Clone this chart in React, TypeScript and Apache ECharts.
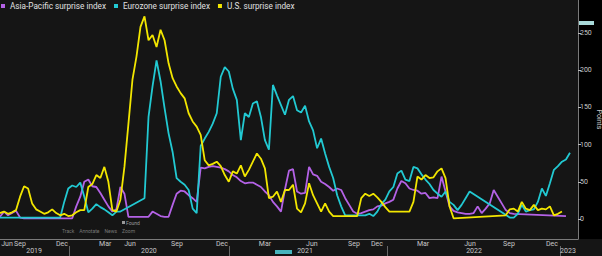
import React, { useEffect, useRef } from "react";
import * as echarts from "echarts";

const seriesNames = ["Asia-Pacific surprise index", "Eurozone surprise index", "U.S. surprise index"];
const seriesColors = ["#b462e6", "#22c9d2", "#f2e600"];

// observation-indexed values (null = no observation, joined by a straight line)
const apac: (number | null)[] = [
  3, 10, 5, 8, 11, 2,
  1, 1, 1, 1, 1, 1, 1, 1, 1, 1, 1, 1, 1,
  17, 30, 50, 53, 44, 43, 35, 26, 17, 10, 13, 43, 34, 3,
  3, 3, 3, 3, 3,
  10, 7, 4, 3, 3, 19, 34, 38, 37, 32, 28, 23,
  69, 68, 70, 71, 70, 69, 67, 64, 59, 56, 51, 48, 49, 49, 46, 43, 37, 32, 23, 17, 10, 40, 65,
  67, 37, 34, 35, 70, 60, 58, 50, 47, 43, 38, 41, 39, 28, 19, 10, 7, 8, 10, 12, 13, 17, 18, 21, 23, 26,
  41, 51, 48, 41, 39, 38, 34, 35, 28, 29, 28, 57, 37, 17, 11, 9, 8, 7, 7, 8, 17, 8, 14, 21, 39, 30, 21, 12, 8, 7,
  null, null, null, null, null, null, null, null, null, null, null, null,
  4, null,
];

const eurozone: (number | null)[] = [
  2, 2, 2, 2, 2, 2, 2, 2, 2, 2, 2, 2, 2, 2, 2, 2,
  23, 41, 45, 43, 49, 30, 9, 14, 20, 16, 13, 9, 5, 10, 10,
  null, null, null, null, null,
  28, 137, 178, 213, 185, 149, 115, 90, 55, 50, 46, 39, 14, 8, 98, 108, 117, 128, 142, 191,
  204, 198, 175, 160, 106, 142, 137, 155, 158, 137, 106, 93, 180, 166, 153, 140, 160,
  165, 146, 143, 152, 131, 119, 95, 108, 88, 70, 55, 32, 17, 5, 5, 5, 5, 5, 5, 7, 4, 10, 20, 26, 37,
  43, 61, 65, 53, 51, 70, 68, 60, 53, 47, 39, 34, 30, 37, 23, 19, 12, 19, 28, 37,
  null, null, null, null, null, null, null, null, null,
  2, 2, 7, 19, 10, 12, 13, 23, 41, 31, 48, 66, 71, 77, 80, 89,
];

const us: (number | null)[] = [
  8, 10, 7, 9, 12, 30, 44, 41, 21, 13, 10, 7, 9, 13, 8, 5, 7, 4, 5, 9,
  12, 12, 43, 47, 59, 55, 70, 50, 12, 10, 26, 70, 128, 187, 218, 258, 272, 240, 247, 231,
  254, 240, 209, 189, 178, 169, 162, 142, 131, 124, 113, 79, 72, 74, 77, 71, 59, 50, 64, 61,
  72, 57, 66, 77, 88, 81, 68, 28, 30, 37, 23, 39, 39,
  46, 14, 9, 21, 48, 32, 21, 10, 21, 10, 4,
  4, 4, 4, 4, 4, 4,
  28, 34, 31, 34, 29, 23, 16, 10,
  10, 10, 10, 10, 10,
  23, 57, 53, 59, 55, 56, 64, 68, 55, 17, 1,
  null, null, null, null, null, null, null, null, null, null, null, null,
  5, 13, 14, 10, 23, 14, 12, 19, 12, 14, 13, 17, 5, 7, 10,
  null, null,
];

// x axis tick labels (observation index of each label)
const monthLabels = ["Jun", "Sep", "Dec", "Mar", "Jun", "Sep", "Dec", "Mar", "Jun", "Sep", "Dec", "Mar", "Jun", "Sep", "Dec"];
const monthAt = [1.74, 4.98, 15.45, 26.2, 32.4, 44.1, 55.3, 66.0, 77.7, 88.2, 93.9, 105.4, 117.1, 126.8, 137.5];
const yearLabels = ["2019", "2020", "2021", "2022", "2023"];
const yearAt = [8.5, 37.1, 76.0, 118.1, 141.5];
const yearBreaks = [17.2, 57.0, 96.4, 139.5];
const lastIndex = 144;

const FONT = "Roboto, 'Noto Sans', sans-serif";

export default function App() {
  const ref = useRef<HTMLDivElement>(null);
  useEffect(() => {
    if (!ref.current) return;
    const chart = echarts.init(ref.current, null, { renderer: "svg" });
    const all = [apac, eurozone, us];
    chart.setOption({
      animation: false,
      backgroundColor: "#151515",
      textStyle: { fontFamily: FONT },
      legend: {
        left: 1,
        top: 2,
        padding: 0,
        icon: "rect",
        itemWidth: 4,
        itemHeight: 4,
        itemGap: 8,
        textStyle: { color: "#e0e0e0", fontSize: 8.2, fontFamily: FONT },
        data: seriesNames,
      },
      grid: { left: 0, right: 24, top: 0, bottom: 17, containLabel: false, outerBoundsMode: "none" },
      xAxis: [
        {
          type: "value",
          min: 0,
          max: lastIndex,
          position: "bottom",
          splitLine: { show: false },
          axisLine: { show: true, onZero: false, lineStyle: { color: "#7a7a7a", width: 1 } },
          axisTick: { show: false },
          axisLabel: {
            customValues: monthAt,
            color: "#c8c8c8",
            fontSize: 7,
            margin: 1,
            fontFamily: FONT,
            formatter: (v: number) => monthLabels[monthAt.indexOf(v)] ?? "",
          },
        },
        {
          type: "value",
          min: 0,
          max: lastIndex,
          position: "bottom",
          offset: 7,
          splitLine: { show: false },
          axisLine: { show: false, onZero: false },
          axisTick: {
            show: true,
            customValues: yearBreaks,
            length: 11,
            lineStyle: { color: "#666" },
          },
          axisLabel: {
            customValues: yearAt,
            color: "#c8c8c8",
            fontSize: 7,
            margin: 1,
            fontFamily: FONT,
            formatter: (v: number) => yearLabels[yearAt.indexOf(v)] ?? "",
          },
        },
      ],
      yAxis: {
        type: "value",
        position: "right",
        min: -26.8,
        max: 294,
        splitNumber: 6,
        name: "Points",
        nameLocation: "middle",
        nameRotate: -90,
        nameGap: 17,
        nameMoveOverlap: false,
        nameTextStyle: { color: "#c8c8c8", fontSize: 7, fontFamily: FONT },
        splitLine: { show: false },
        axisLine: { show: true, onZero: false, lineStyle: { color: "#7a7a7a", width: 1 } },
        axisTick: { show: true, length: 3, lineStyle: { color: "#bbb" } },
        axisLabel: {
          color: "#c8c8c8",
          fontSize: 7,
          margin: 2,
          showMinLabel: false,
          showMaxLabel: false,
          fontFamily: FONT,
        },
      },
      graphic: [
        { type: "rect", z: -10, shape: { x: 578, y: 0, width: 24, height: 239 }, style: { fill: "#000" } },
        { type: "rect", shape: { x: 579, y: 21, width: 15, height: 4 }, style: { fill: "#a9dada" } },
        { type: "rect", shape: { x: 275, y: 250, width: 17, height: 4 }, style: { fill: "#46b4bd" } },
        { type: "rect", shape: { x: 122, y: 221, width: 3, height: 3 }, style: { fill: "#999" } },
        { type: "text", x: 126, y: 220, style: { text: "Found", fill: "#999", fontSize: 5, fontFamily: FONT } },
        { type: "text", x: 62, y: 228, style: { text: "Track    Annotate    News    Zoom", fill: "#777", fontSize: 5, fontFamily: FONT } },
      ],
      series: all.map((vals, k) => ({
        name: seriesNames[k],
        type: "line",
        data: vals.map((v, i) => [i, v]),
        connectNulls: true,
        showSymbol: false,
        symbol: "none",
        color: seriesColors[k],
        lineStyle: { color: seriesColors[k], width: 1.8 },
        xAxisIndex: 0,
      })),
    });
    return () => chart.dispose();
  }, []);
  return <div ref={ref} style={{ position: "fixed", left: 0, top: 0, width: 602, height: 256 }} />;
}
